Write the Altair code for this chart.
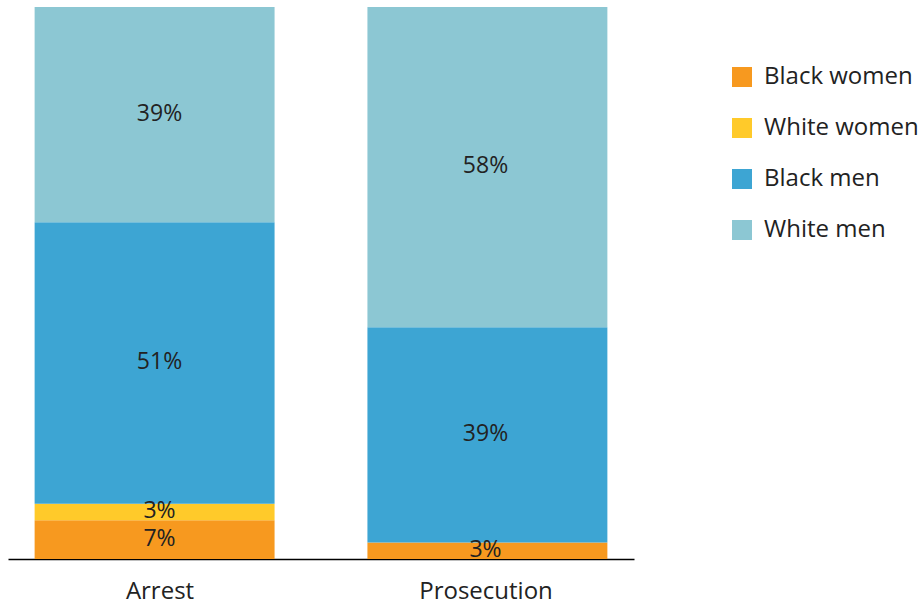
import altair as alt
import pandas as pd

stages = ["Arrest", "Prosecution"]
groups = ["Black women", "White women", "Black men", "White men"]
arrest = [7, 3, 51, 39]
prosecution = [3, 0, 39, 58]
colors = ["#F7991F", "#FFCA2A", "#3DA5D3", "#8CC7D3"]

rows = []
for stage, vals in zip(stages, [arrest, prosecution]):
    for i, (g, v) in enumerate(zip(groups, vals)):
        rows.append({"stage": stage, "group": g, "value": v, "order": i})
df = pd.DataFrame(rows)

FONT = "Open Sans"
FS = 23
FS2 = 24

base = alt.Chart(df).transform_stack(
    stack="value", groupby=["stage"], sort=[alt.SortField("order")],
    as_=["y0", "y1"]
).transform_calculate(
    mid="(datum.y0 + datum.y1) / 2",
    label="datum.value + '%'"
)

yscale = alt.Scale(domain=[0, 100])

bars = base.mark_bar().encode(
    x=alt.X("stage:N", sort=stages, title=None,
            scale=alt.Scale(paddingInner=0.279, paddingOuter=0.08),
            axis=alt.Axis(labels=False, ticks=False, domainColor="black",
                          domainWidth=1.3, grid=False, title=None,
                          orient="bottom")),
    y=alt.Y("y0:Q", scale=yscale, axis=None),
    y2="y1:Q",
    color=alt.Color("group:N", sort=groups,
                    scale=alt.Scale(domain=groups, range=colors),
                    legend=alt.Legend(title=None, orient="none",
                                      legendX=722, legendY=58,
                                      symbolType="square", symbolSize=400,
                                      symbolStrokeWidth=0, symbolOpacity=1,
                                      labelFontSize=FS2, labelFont=FONT,
                                      labelColor="#222", rowPadding=27,
                                      labelOffset=10)),
)

texts = base.transform_filter("datum.value > 0").mark_text(
    fontSize=FS, font=FONT, color="#222", baseline="middle", dy=-1
).encode(
    x=alt.X("stage:O", sort=stages, title=None,
            scale=alt.Scale(type="point", range=[151.5, 477.5], padding=0),
            axis=alt.Axis(labelAngle=0, ticks=False, domain=False,
                          orient="bottom",
                          labelFontSize=FS2, labelFont=FONT,
                          labelColor="#222", labelPadding=20, grid=False)),
    y=alt.Y("mid:Q", scale=yscale, axis=None),
    text="label:N",
)

chart = alt.layer(bars, texts).resolve_scale(x="independent").properties(
    width=626, height=552,
    autosize=alt.AutoSizeParams(type="none"),
    padding={"left": 8, "top": 7, "right": 284, "bottom": 45},
).configure(background="white", view=alt.ViewConfig(strokeWidth=0))

chart.save("out.html", embed_options={"renderer": "svg", "actions": False})
